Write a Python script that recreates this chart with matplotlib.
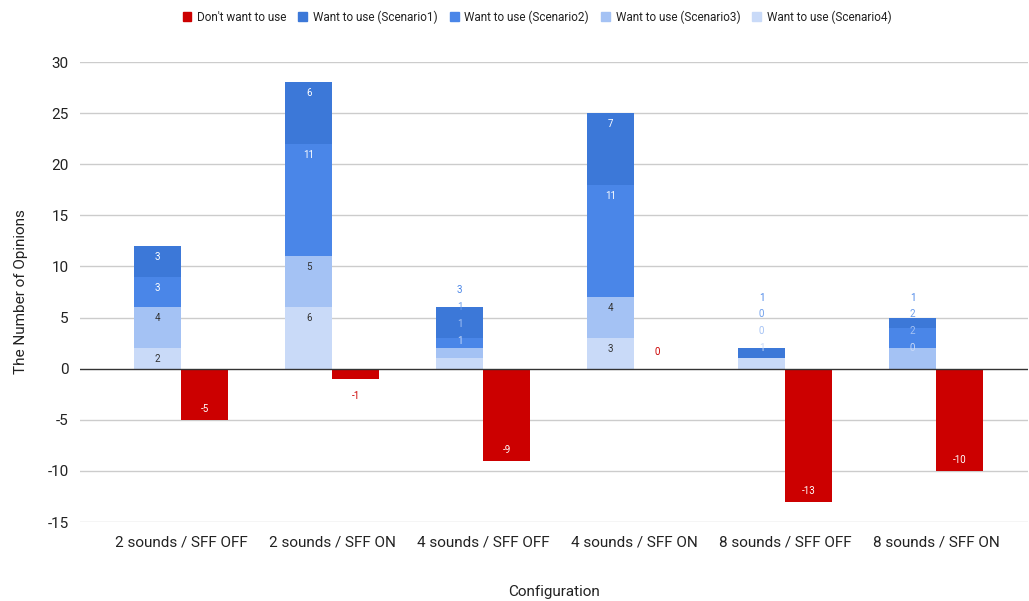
import matplotlib
matplotlib.use("Agg")
import matplotlib.pyplot as plt
from matplotlib.patches import Patch

plt.rcParams['font.family'] = ['Roboto', 'DejaVu Sans']

categories = ["2 sounds / SFF OFF", "2 sounds / SFF ON", "4 sounds / SFF OFF",
              "4 sounds / SFF ON", "8 sounds / SFF OFF", "8 sounds / SFF ON"]
dont_want = [-5, -1, -9, 0, -13, -10]
scenario1 = [3, 6, 3, 7, 1, 1]
scenario2 = [3, 11, 1, 11, 0, 2]
scenario3 = [4, 5, 1, 4, 0, 2]
scenario4 = [2, 6, 1, 3, 1, 0]
yticks = [-15, -10, -5, 0, 5, 10, 15, 20, 25, 30]

c_red = "#cc0000"
c_s1 = "#3c78d8"
c_s2 = "#4a86e8"
c_s3 = "#a4c2f4"
c_s4 = "#c9daf8"
lbl_out = {"s1": "#4a86e8", "s2": "#6d9eeb", "s3": "#a4c2f4", "s4": "#c9daf8"}

fig = plt.figure(figsize=(10.29, 6.01), dpi=100)
ax = fig.add_axes([80/1029, 1-522/601, 948/1029, 460/601])

w = 0.31
x = list(range(len(categories)))
xb = [i - w/2 for i in x]
xr = [i + w/2 for i in x]

# stacked want-to-use (bottom: scenario4)
stack = [("s4", scenario4, c_s4, "#333333"),
         ("s3", scenario3, c_s3, "#333333"),
         ("s2", scenario2, c_s2, "white"),
         ("s1", scenario1, c_s1, "white")]
bottoms = [0]*len(categories)
segs = {k: [] for k in range(len(categories))}
for key, vals, col, tcol in stack:
    ax.bar(xb, vals, w, bottom=bottoms, color=col, edgecolor=col, linewidth=0, zorder=3)
    for i, v in enumerate(vals):
        segs[i].append((key, bottoms[i], v, tcol))
    bottoms = [b + v for b, v in zip(bottoms, vals)]

ax.bar(xr, dont_want, w, color=c_red, linewidth=0, zorder=3)

# label helpers
off = 1.08   # ~11 px inside the segment end
gap = 1.65
fs = 7
for i in range(len(categories)):
    s = segs[i]
    total = bottoms[i]
    small = any(v < 1.6 for _, _, v, _ in s)
    if not small:
        for key, b, v, tcol in s:
            ax.text(xb[i], b + v - off, f"{v}", ha="center", va="center",
                    fontsize=fs, color=tcol, zorder=5)
    else:
        top = total + 1.7
        bottom = top - gap*(len(s)-1)
        if bottom < 2.0:
            bottom = 2.0
        for j, (key, b, v, tcol) in enumerate(s):
            ax.text(xb[i], bottom + gap*j, f"{v}", ha="center", va="center",
                    fontsize=fs, color=lbl_out[key], zorder=5)

for i, v in enumerate(dont_want):
    if abs(v) >= 1.6:
        ax.text(xr[i], v + off, f"{v}", ha="center", va="center", fontsize=fs,
                color="white", zorder=5)
    else:
        y = v - 1.7 if v < 0 else v + 1.66
        ax.text(xr[i], y, f"{v}", ha="center", va="center", fontsize=fs,
                color=c_red, zorder=5)

ax.set_xlim(-0.67, 5.61)
ax.set_ylim(-15, 30)
ax.set_yticks(yticks)
ax.set_yticklabels([str(t) for t in yticks])
ax.set_xticks(x)
ax.set_xticklabels(categories)
ax.tick_params(axis="both", length=0, labelsize=11, colors="#222222")
ax.tick_params(axis="y", pad=8)
ax.tick_params(axis="x", pad=10)
for t in yticks:
    ax.axhline(t, color="#cccccc" if t != 0 else "#333333", lw=1, zorder=1 if t != 0 else 4)
for sp in ax.spines.values():
    sp.set_visible(False)

ax.set_ylabel("The Number of Opinions", fontsize=11, color="#222222", labelpad=14)
ax.set_xlabel("Configuration", fontsize=11, color="#222222", labelpad=25)

handles = [Patch(color=c_red), Patch(color=c_s1), Patch(color=c_s2),
           Patch(color=c_s3), Patch(color=c_s4)]
labels = ["Don't want to use", "Want to use (Scenario1)", "Want to use (Scenario2)",
          "Want to use (Scenario3)", "Want to use (Scenario4)"]
fig.legend(handles, labels, loc="center", bbox_to_anchor=(537/1029, 1-17/601), ncol=5,
           frameon=False, fontsize=8.5, handlelength=0.75, handleheight=0.75,
           handletextpad=0.5, columnspacing=1.0, labelcolor="#222222")

fig.savefig("out.png", dpi=100)
